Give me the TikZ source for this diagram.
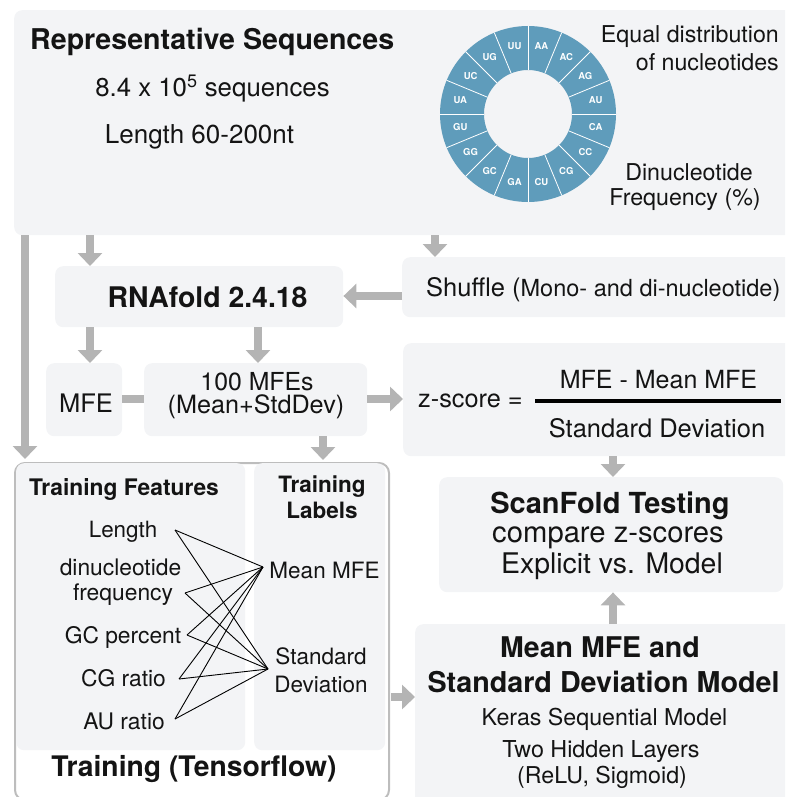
\documentclass[tikz,border=0pt]{standalone}
\usepackage{fontspec}
\setmainfont{TeX Gyre Heros}
\usetikzlibrary{arrows.meta,calc}
\definecolor{boxfill}{HTML}{F3F4F6}
\definecolor{arrgray}{HTML}{B4B4B4}
\definecolor{donutblue}{HTML}{5F9CBB}
\definecolor{framegray}{HTML}{BDBDBD}
\definecolor{ink}{HTML}{141414}
\newcommand\fsz[1]{\fontsize{#1}{#1}\selectfont}
\begin{document}
\begin{tikzpicture}[x=1pt,y=-1pt,
  box/.style={fill=boxfill, rounded corners=8pt, inner sep=0pt, anchor=north west},
  tx/.style={inner sep=0pt, text=ink, anchor=base},
  arr/.style={draw=arrgray, line width=8pt, -{Triangle[width=24pt,length=13pt]}},
  bar/.style={draw=arrgray, line width=8pt},
  wire/.style={draw=black, line width=0.9pt},
  dlab/.style={inner sep=0pt, text=white, font=\bfseries\fsz{9.5}},
]
\useasboundingbox (0,0) rectangle (785,797);
\clip (0,0) rectangle (785,797);

% ---------- boxes ----------
\node[box, minimum width=781pt, minimum height=225pt] (rep) at (14,10) {};
\node[box, minimum width=288pt, minimum height=61pt] (rna) at (55,266) {};
\node[box, minimum width=393pt, minimum height=60pt] (shuf) at (402,257) {};
\node[box, minimum width=76pt, minimum height=73pt] (mfe) at (46,363) {};
\node[box, minimum width=223pt, minimum height=73pt] (mfes) at (144,363) {};
\node[box, minimum width=392pt, minimum height=113pt] (z) at (403,343) {};
\node[box, minimum width=344pt, minimum height=115pt] (scan) at (439,477) {};
\node[box, minimum width=380pt, minimum height=200pt] (model) at (415,624) {};
\node[draw=framegray, line width=2pt, fill=white, rounded corners=10pt, inner sep=0pt,
      anchor=north west, minimum width=374pt, minimum height=337pt] (train) at (14,462) {};
\node[box, minimum width=229pt, minimum height=287pt] (feat) at (16,463) {};
\node[box, minimum width=131pt, minimum height=287pt] (labs) at (254,463) {};

% ---------- top box content ----------
\node[tx, anchor=base west, font=\bfseries\fsz{28.6}] (t1) at (30,50) {Representative Sequences};
\node[tx, font=\fsz{25.8}] (t2) at (212.5,97) {8.4 x 10\textsuperscript{5} sequences};
\node[tx, font=\fsz{26}] (t3) at (199.5,143) {Length 60-200nt};
\node[tx, anchor=base east, font=\fsz{23.2}] (t4) at (779,43) {Equal distribution};
\node[tx, anchor=base east, font=\fsz{23.2}] (t5) at (779,71) {of nucleotides};
\node[tx, font=\fsz{23.2}] (t6) at (689,180) {Dinucleotide};
\node[tx, font=\fsz{23.2}] (t7) at (685,205) {Frequency (\%)};

% donut
\coordinate (dc) at (528,114);
\fill[donutblue, even odd rule] (dc) circle[radius=88pt] (dc) circle[radius=44pt];
\foreach \i in {0,...,15}
  \draw[white, line width=0.8pt] (dc) ++(90-22.5*\i:44pt) -- ++(90-22.5*\i:44pt);
\foreach \lab [count=\i from 0] in {AA,AC,AG,AU,CA,CC,CG,CU,GA,GC,GG,GU,UA,UC,UG,UU}
  \node[dlab] (d\i) at ($(dc)+(78.75-22.5*\i:69pt)$) {\lab};

% ---------- other box texts ----------
\node[tx, font=\bfseries\fsz{28.4}] (rnat) at (207.5,307) {RNAfold 2.4.18};
\node[tx, anchor=base west] (shuft) at (426,296) {{\fsz{25.5}Shuffle (}{\fsz{23.5}Mono- and di-nucleotide)}};
\node[tx, font=\fsz{25.5}] (mfet) at (86,412) {MFE};
\node[tx, font=\fsz{24.8}] (mfes1) at (257,390) {100 MFEs};
\node[tx, font=\fsz{25.2}] (mfes2) at (256,413) {(Mean+StdDev)};
\node[tx, anchor=base west, font=\fsz{25.3}] (zt) at (418,407) {z-score =};
\node[tx, font=\fsz{25}] (znum) at (658.5,388) {MFE - Mean MFE};
\node[tx, font=\fsz{25.5}] (zden) at (657,437) {Standard Deviation};
\coordinate (fl) at (535,401);
\coordinate (fr) at (781,401);
\draw[black, line width=3.5pt] (fl) -- (fr);
\node[tx, font=\bfseries\fsz{29}] (s1) at (610,513) {ScanFold Testing};
\node[tx, font=\fsz{29.2}] (s2) at (608,542) {compare z-scores};
\node[tx, font=\fsz{28.4}] (s3) at (612,573) {Explicit vs. Model};
\node[tx, font=\bfseries\fsz{28.5}] (m1) at (600,657) {Mean MFE and};
\node[tx, font=\bfseries\fsz{28.7}] (m2) at (603.5,692) {Standard Deviation Model};
\node[tx, font=\fsz{23.2}] (m3) at (604.5,725) {Keras Sequential Model};
\node[tx, font=\fsz{23.3}] (m4) at (601,757) {Two Hidden Layers};
\node[tx, font=\fsz{23.2}] (m5) at (602,783) {(ReLU, Sigmoid)};

% ---------- training ----------
\node[tx, font=\bfseries\fsz{22.8}] (tf) at (124,495) {Training Features};
\node[tx, font=\bfseries\fsz{22.5}] (tl1) at (322,492) {Training};
\node[tx, font=\bfseries\fsz{22.5}] (tl2) at (322,518) {Labels};
\node[tx, font=\fsz{22.4}] (f1) at (123,537) {Length};
\node[tx, font=\fsz{22.8}] (f2a) at (120.5,575) {dinucleotide};
\node[tx, font=\fsz{22.8}] (f2) at (123,600) {frequency};
\node[tx, font=\fsz{22.8}] (f3) at (123,643) {GC percent};
\node[tx, font=\fsz{22.8}] (f4) at (123.5,686) {CG ratio};
\node[tx, font=\fsz{22.8}] (f5) at (124,729) {AU ratio};
\node[tx, font=\fsz{22.5}] (l1) at (324.5,578) {Mean MFE};
\node[tx, font=\fsz{22.5}] (l2a) at (321,664) {Standard};
\node[tx, font=\fsz{22.5}] (l2) at (321,692) {Deviation};
\node[tx, font=\bfseries\fsz{28.3}] (tt) at (194,776) {Training (Tensorflow)};

\coordinate (p1) at (175,530);
\coordinate (p2) at (185,593);
\coordinate (p3) at (187,635);
\coordinate (p4) at (179,679);
\coordinate (p5) at (175,719);
\coordinate (q1) at (263,567);
\coordinate (q2) at (268,669);
\foreach \p in {p1,p2,p3,p4,p5} {
  \draw[wire] (\p) -- (q1);
  \draw[wire] (\p) -- (q2);
}

% ---------- arrows ----------
\draw[arr] (rep.south -| 25,0) -- ([yshift=3pt]train.north -| 25,0);
\draw[arr] (rep.south -| 90,0) -- (rna.north -| 90,0);
\draw[arr] (rep.south -| 435,0) -- (shuf.north -| 435,0);
\draw[arr] (shuf.west |- 0,296) -- (rna.east |- 0,296);
\draw[arr] (rna.south -| 90,0) -- (mfe.north -| 90,0);
\draw[arr] (rna.south -| 258,0) -- (mfes.north -| 258,0);
\draw[bar] (mfe.east |- 0,399) -- (mfes.west |- 0,399);
\draw[arr] (mfes.east |- 0,399) -- (z.west |- 0,399);
\draw[arr] (mfes.south -| 323,0) -- ([yshift=2pt]train.north -| 323,0);
\draw[arr] (z.south -| 613,0) -- (scan.north -| 613,0);
\draw[arr] (model.north -| 613,0) -- (scan.south -| 613,0);
\draw[arr] ([xshift=1pt]train.east |- 0,697) -- (model.west |- 0,697);
\end{tikzpicture}
\end{document}
